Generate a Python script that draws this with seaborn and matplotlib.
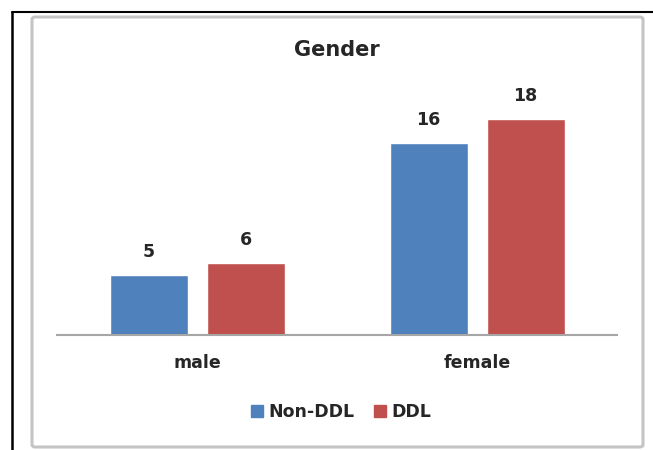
import matplotlib
matplotlib.use("Agg")
import matplotlib.pyplot as plt
from matplotlib.patches import FancyBboxPatch
from matplotlib.lines import Line2D
import pandas as pd
import seaborn as sns

genders = ["male", "female"]
groups = ["Non-DDL", "DDL"]
non_ddl = [5, 16]
ddl = [6, 18]
colors = ["#4F81BD", "#C0504D"]

df = pd.DataFrame({
    "gender": genders * 2,
    "group": [groups[0]] * 2 + [groups[1]] * 2,
    "count": non_ddl + ddl,
})

sns.set_style("white")
plt.rcParams["font.family"] = ["DejaVu Sans"]
txt = "#262626"

fig = plt.figure(figsize=(6.53, 4.5), dpi=100)
ax = fig.add_axes([0.0873, 0.2556, 0.8577, 0.533])

sns.barplot(data=df, x="gender", y="count", hue="group", order=genders,
            hue_order=groups, palette=colors, width=0.693, gap=0.196,
            saturation=1, ax=ax, legend=False)

for cont in ax.containers:
    ax.bar_label(cont, padding=10, fontsize=12.5, fontweight="bold", color=txt)

ax.set_xlim(-0.5, 1.5)
ax.set_ylim(0, 20)
ax.set_xlabel("")
ax.set_ylabel("")
ax.set_yticks([])
ax.tick_params(axis="x", length=0, pad=14, labelsize=12.5, labelcolor=txt)
for lab in ax.get_xticklabels():
    lab.set_fontweight("bold")
for side in ["top", "right", "left"]:
    ax.spines[side].set_visible(False)
ax.spines["bottom"].set_color("#A6A6A6")
ax.spines["bottom"].set_linewidth(1.5)
ax.patch.set_alpha(0)

fig.text(0.5165, 1 - 50.5 / 450, "Gender", ha="center", va="center", fontsize=15,
         fontweight="bold", color=txt)

handles = [plt.Rectangle((0, 0), 1, 1, color=c) for c in colors]
fig.legend(handles, groups, loc="center", bbox_to_anchor=(341 / 653, 1 - 412 / 450),
           ncol=2, frameon=False, handlelength=0.7, handleheight=0.7,
           handletextpad=0.3, columnspacing=1.1,
           prop={"weight": "bold", "size": 12.5}, labelcolor=txt)

# rounded chart-area frame and outer document border
fig.add_artist(FancyBboxPatch((32 / 653, 3 / 450), 611 / 653, 430 / 450,
                              boxstyle="round,pad=0,rounding_size=0.005",
                              transform=fig.transFigure, fill=False,
                              edgecolor="#C4C4C4", linewidth=2.2, zorder=-1))
fig.add_artist(Line2D([12 / 653, 1], [1 - 12 / 450, 1 - 12 / 450],
                      transform=fig.transFigure, color="black", linewidth=1.5))
fig.add_artist(Line2D([12 / 653, 12 / 653], [0, 1 - 12 / 450],
                      transform=fig.transFigure, color="black", linewidth=1.8))

fig.savefig("out.png", dpi=100)
